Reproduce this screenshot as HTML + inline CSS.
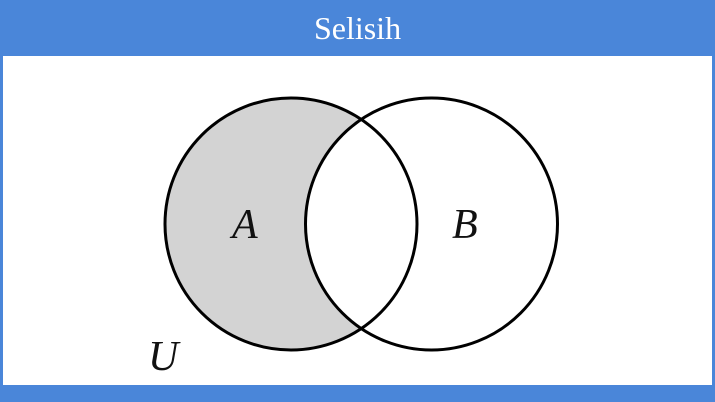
<!DOCTYPE html>
<html><head><style>
html,body{margin:0;padding:0;width:715px;height:402px;overflow:hidden;background:#4a86d9}
.t{position:absolute;left:0;top:10px;width:715px;height:40px;text-align:center;line-height:36px;color:#fff;font:32px "Liberation Serif",serif}
svg{position:absolute;left:0;top:0}
</style></head><body>
<div class="t">Selisih</div>
<svg width="715" height="402">
<rect x="3" y="56" width="709" height="329" fill="#fff"/>
<defs><clipPath id="a"><circle cx="291" cy="224" r="126"/></clipPath></defs>
<circle cx="291" cy="224" r="126" fill="#d3d3d3"/>
<circle cx="431.5" cy="224" r="126" fill="#fff" clip-path="url(#a)"/>
<circle cx="291" cy="224" r="126" fill="none" stroke="#000" stroke-width="3"/>
<circle cx="431.5" cy="224" r="126" fill="none" stroke="#000" stroke-width="3"/>
<g font-family="Liberation Serif,serif" font-style="italic" font-size="42" fill="#111">
<text x="232" y="238">A</text>
<text x="452" y="238">B</text>
<text x="148" y="370">U</text>
</g>
</svg>
</body></html>
